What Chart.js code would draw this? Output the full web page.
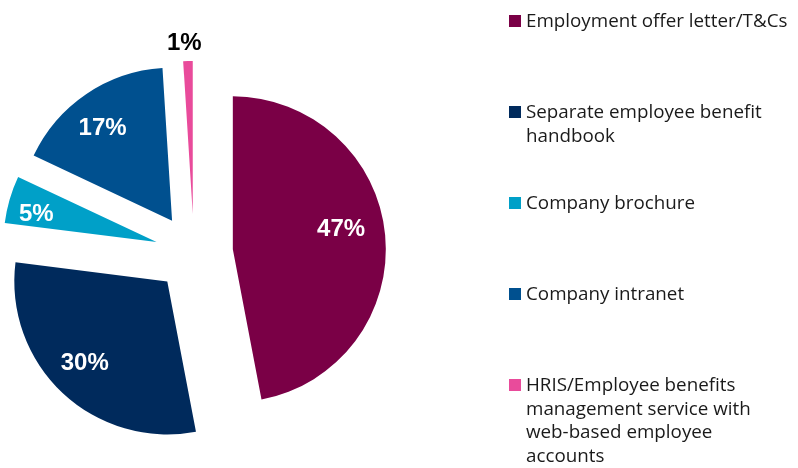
<!DOCTYPE html>
<html>
<head>
<meta charset="utf-8">
<script src="https://cdn.jsdelivr.net/npm/chart.js@4"></script>
<style>
  html, body { margin: 0; padding: 0; background: #ffffff; }
  #wrap { width: 798px; height: 468px; position: relative; }
</style>
</head>
<body>
<div id="wrap"><canvas id="chart" width="798" height="468"></canvas></div>
<script>
// Where employee benefit information is communicated (share of respondents, %)
const categories = [
  ['Employment offer letter/T&Cs'],
  ['Separate employee benefit', 'handbook'],
  ['Company brochure'],
  ['Company intranet'],
  ['HRIS/Employee benefits', 'management service with', 'web-based employee', 'accounts']
];
const shares = [47, 30, 5, 17, 1];
const sliceColors = ['#7A0046', '#002A5C', '#00A0C8', '#00508F', '#E94B9B'];

// Pulls every slice outward along its bisector before drawing it
const explodePlugin = {
  id: 'explode',
  beforeDatasetsDraw(chart, args, opts) {
    const ctx = chart.ctx;
    chart.getDatasetMeta(0).data.forEach(arc => {
      const mid = (arc.startAngle + arc.endAngle) / 2;
      ctx.save();
      ctx.translate(Math.cos(mid) * opts.distance, Math.sin(mid) * opts.distance);
      arc.draw(ctx);
      ctx.restore();
    });
    return false;
  }
};

// Percentage labels placed along each slice's bisector
const sliceLabelPlugin = {
  id: 'sliceLabels',
  afterDraw(chart, args, opts) {
    const ctx = chart.ctx;
    const shift = chart.options.plugins.explode.distance;
    chart.getDatasetMeta(0).data.forEach((arc, i) => {
      const mid = (arc.startAngle + arc.endAngle) / 2;
      const r = shift + arc.outerRadius * opts.radial[i];
      const x = arc.x + Math.cos(mid) * r + opts.nudge[i][0];
      const y = arc.y + Math.sin(mid) * r + opts.nudge[i][1];
      ctx.save();
      ctx.font = opts.font;
      ctx.fillStyle = opts.colors[i];
      ctx.textAlign = 'center';
      ctx.textBaseline = 'middle';
      ctx.fillText(shares[i] + '%', x, y);
      ctx.restore();
    });
  }
};

// Legend column on the right with wrapped entries
const sideLegendPlugin = {
  id: 'sideLegend',
  afterDraw(chart, args, opts) {
    const ctx = chart.ctx;
    ctx.save();
    ctx.font = opts.font;
    ctx.textAlign = 'left';
    ctx.textBaseline = 'alphabetic';
    categories.forEach((lines, i) => {
      const base = opts.top + i * opts.gap;
      ctx.fillStyle = sliceColors[i];
      ctx.fillRect(opts.boxX, base - opts.boxRise, opts.box, opts.box);
      ctx.fillStyle = opts.color;
      lines.forEach((line, j) => {
        ctx.fillText(line, opts.textX, base + j * opts.lineHeight);
      });
    });
    ctx.restore();
  }
};

new Chart(document.getElementById('chart'), {
  type: 'pie',
  data: {
    labels: categories,
    datasets: [{
      data: shares,
      backgroundColor: sliceColors,
      borderWidth: 0
    }]
  },
  options: {
    responsive: false,
    animation: false,
    devicePixelRatio: 1,
    events: [],
    radius: 153,
    layout: { padding: { left: 0, right: 410, top: 38, bottom: 0 } },
    plugins: {
      legend: { display: false },
      tooltip: { enabled: false },
      explode: { distance: 39 },
      sliceLabels: {
        font: 'bold 24px "Liberation Sans", Arial, sans-serif',
        colors: ['#ffffff', '#ffffff', '#ffffff', '#ffffff', '#000000'],
        radial: [0.75, 0.75, 0.75, 0.75, 1.13],
        nudge: [[-6, -9], [-4, -2], [-10, 4], [-5, 3], [-3, 2]]
      },
      sideLegend: {
        font: '18.8px "Open Sans", sans-serif',
        color: '#1a1a1a',
        top: 27,
        gap: 91,
        lineHeight: 23.5,
        boxX: 509,
        box: 12,
        boxRise: 12,
        textX: 526
      }
    }
  },
  plugins: [explodePlugin, sliceLabelPlugin, sideLegendPlugin]
});
</script>
</body>
</html>
